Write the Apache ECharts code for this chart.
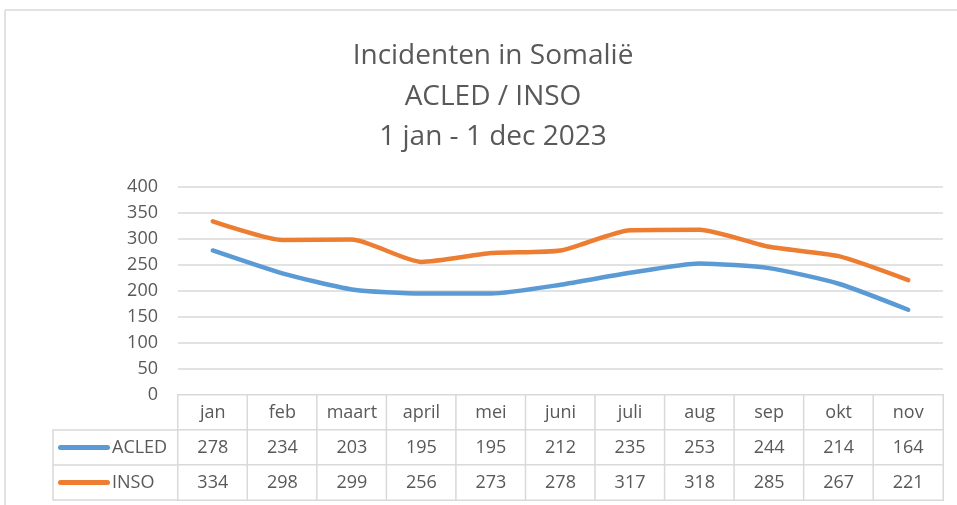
<!DOCTYPE html>
<html>
<head>
<meta charset="utf-8">
<script src="https://cdn.jsdelivr.net/npm/echarts@6/dist/echarts.min.js"></script>
<style>
  html, body { margin: 0; padding: 0; background: #fff; }
  #chart { width: 957px; height: 505px; }
</style>
</head>
<body>
<div id="chart"></div>
<script>
var months = ['jan', 'feb', 'maart', 'april', 'mei', 'juni', 'juli', 'aug', 'sep', 'okt', 'nov'];
var acled = [278, 234, 203, 195, 195, 212, 235, 253, 244, 214, 164];
var inso = [334, 298, 299, 256, 273, 278, 317, 318, 285, 267, 221];
var seriesNames = ['ACLED', 'INSO'];
var colors = ['#5B9BD5', '#ED7D31'];

var txt = '#595959';
var gridCol = '#D9D9D9';
var font = 'Open Sans';

// tabelcellen: rij 0 = kop (maanden), rij 1 = ACLED, rij 2 = INSO
var cells = [];
for (var i = 0; i < months.length; i++) {
    cells.push([i, 0, 0]);
    cells.push([i, 1, acled[i]]);
    cells.push([i, 2, inso[i]]);
}

var dom = document.getElementById('chart');
var myChart = echarts.init(dom);

var option = {
    animation: false,
    backgroundColor: '#fff',
    title: {
        text: 'Incidenten in Somalië\nACLED / INSO\n1 jan - 1 dec 2023',
        left: 488,
        top: 31,
        textAlign: 'center',
        textStyle: {
            fontFamily: font,
            fontWeight: 'normal',
            fontSize: 28,
            lineHeight: 40.5,
            color: txt
        }
    },
    graphic: [
        // rand van de grafiek
        { type: 'line', shape: { x1: 5, y1: 10, x2: 957, y2: 10 }, style: { stroke: gridCol, lineWidth: 1.5 } },
        { type: 'line', shape: { x1: 5, y1: 10, x2: 5, y2: 505 }, style: { stroke: gridCol, lineWidth: 1.5 } },
        // linkerkolom van de tabel
        { type: 'rect', shape: { x: 53, y: 430, width: 125, height: 70 }, style: { fill: 'none', stroke: gridCol, lineWidth: 1.5 } },
        { type: 'line', shape: { x1: 53, y1: 465, x2: 178, y2: 465 }, style: { stroke: gridCol, lineWidth: 1.5 } }
    ],
    grid: [
        { left: 178, right: 14, top: 187, height: 208 },
        { left: 178, right: 14, top: 395, height: 105 }
    ],
    xAxis: [
        {
            gridIndex: 0,
            type: 'category',
            data: months,
            boundaryGap: true,
            axisLine: { show: false },
            axisTick: { show: false },
            axisLabel: { show: false }
        },
        {
            gridIndex: 1,
            type: 'category',
            data: months,
            axisLine: { show: false },
            axisTick: { show: false },
            axisLabel: { show: false },
            splitLine: { show: false }
        }
    ],
    yAxis: [
        {
            gridIndex: 0,
            type: 'value',
            min: 0,
            max: 400,
            interval: 50,
            axisLine: { show: false },
            axisTick: { show: false },
            axisLabel: { color: txt, fontFamily: font, fontSize: 18, margin: 20 },
            splitLine: { lineStyle: { color: gridCol, width: 1.5 } }
        },
        {
            gridIndex: 1,
            type: 'category',
            inverse: true,
            data: ['', 'ACLED', 'INSO'],
            axisLine: { show: false },
            axisTick: { show: false },
            splitLine: { show: false },
            axisLabel: {
                margin: 120,
                align: 'left',
                formatter: function (v, idx) {
                    if (idx === 1) return '{a|}{t|ACLED}';
                    if (idx === 2) return '{b|}{t|INSO}';
                    return '';
                },
                rich: {
                    a: { width: 52, height: 5, backgroundColor: colors[0], borderRadius: 3 },
                    b: { width: 52, height: 5, backgroundColor: colors[1], borderRadius: 3 },
                    t: { color: txt, fontFamily: font, fontSize: 18, padding: [0, 0, 0, 2] }
                }
            }
        }
    ],
    series: [
        {
            name: seriesNames[0],
            type: 'line',
            xAxisIndex: 0,
            yAxisIndex: 0,
            data: acled,
            smooth: 0.2,
            symbol: 'none',
            lineStyle: { color: colors[0], width: 4.5, cap: 'round', join: 'round' },
            itemStyle: { color: colors[0] }
        },
        {
            name: seriesNames[1],
            type: 'line',
            xAxisIndex: 0,
            yAxisIndex: 0,
            data: inso,
            smooth: 0.2,
            symbol: 'none',
            lineStyle: { color: colors[1], width: 4.5, cap: 'round', join: 'round' },
            itemStyle: { color: colors[1] }
        },
        {
            name: 'tabel',
            type: 'heatmap',
            xAxisIndex: 1,
            yAxisIndex: 1,
            data: cells,
            itemStyle: { color: '#fff', borderColor: gridCol, borderWidth: 1.5 },
            emphasis: { disabled: true },
            label: {
                show: true,
                color: txt,
                fontFamily: font,
                fontSize: 18,
                formatter: function (p) {
                    if (p.data[1] === 0) return months[p.data[0]];
                    return String(p.data[2]);
                }
            }
        }
    ]
};

myChart.setOption(option);
</script>
</body>
</html>
